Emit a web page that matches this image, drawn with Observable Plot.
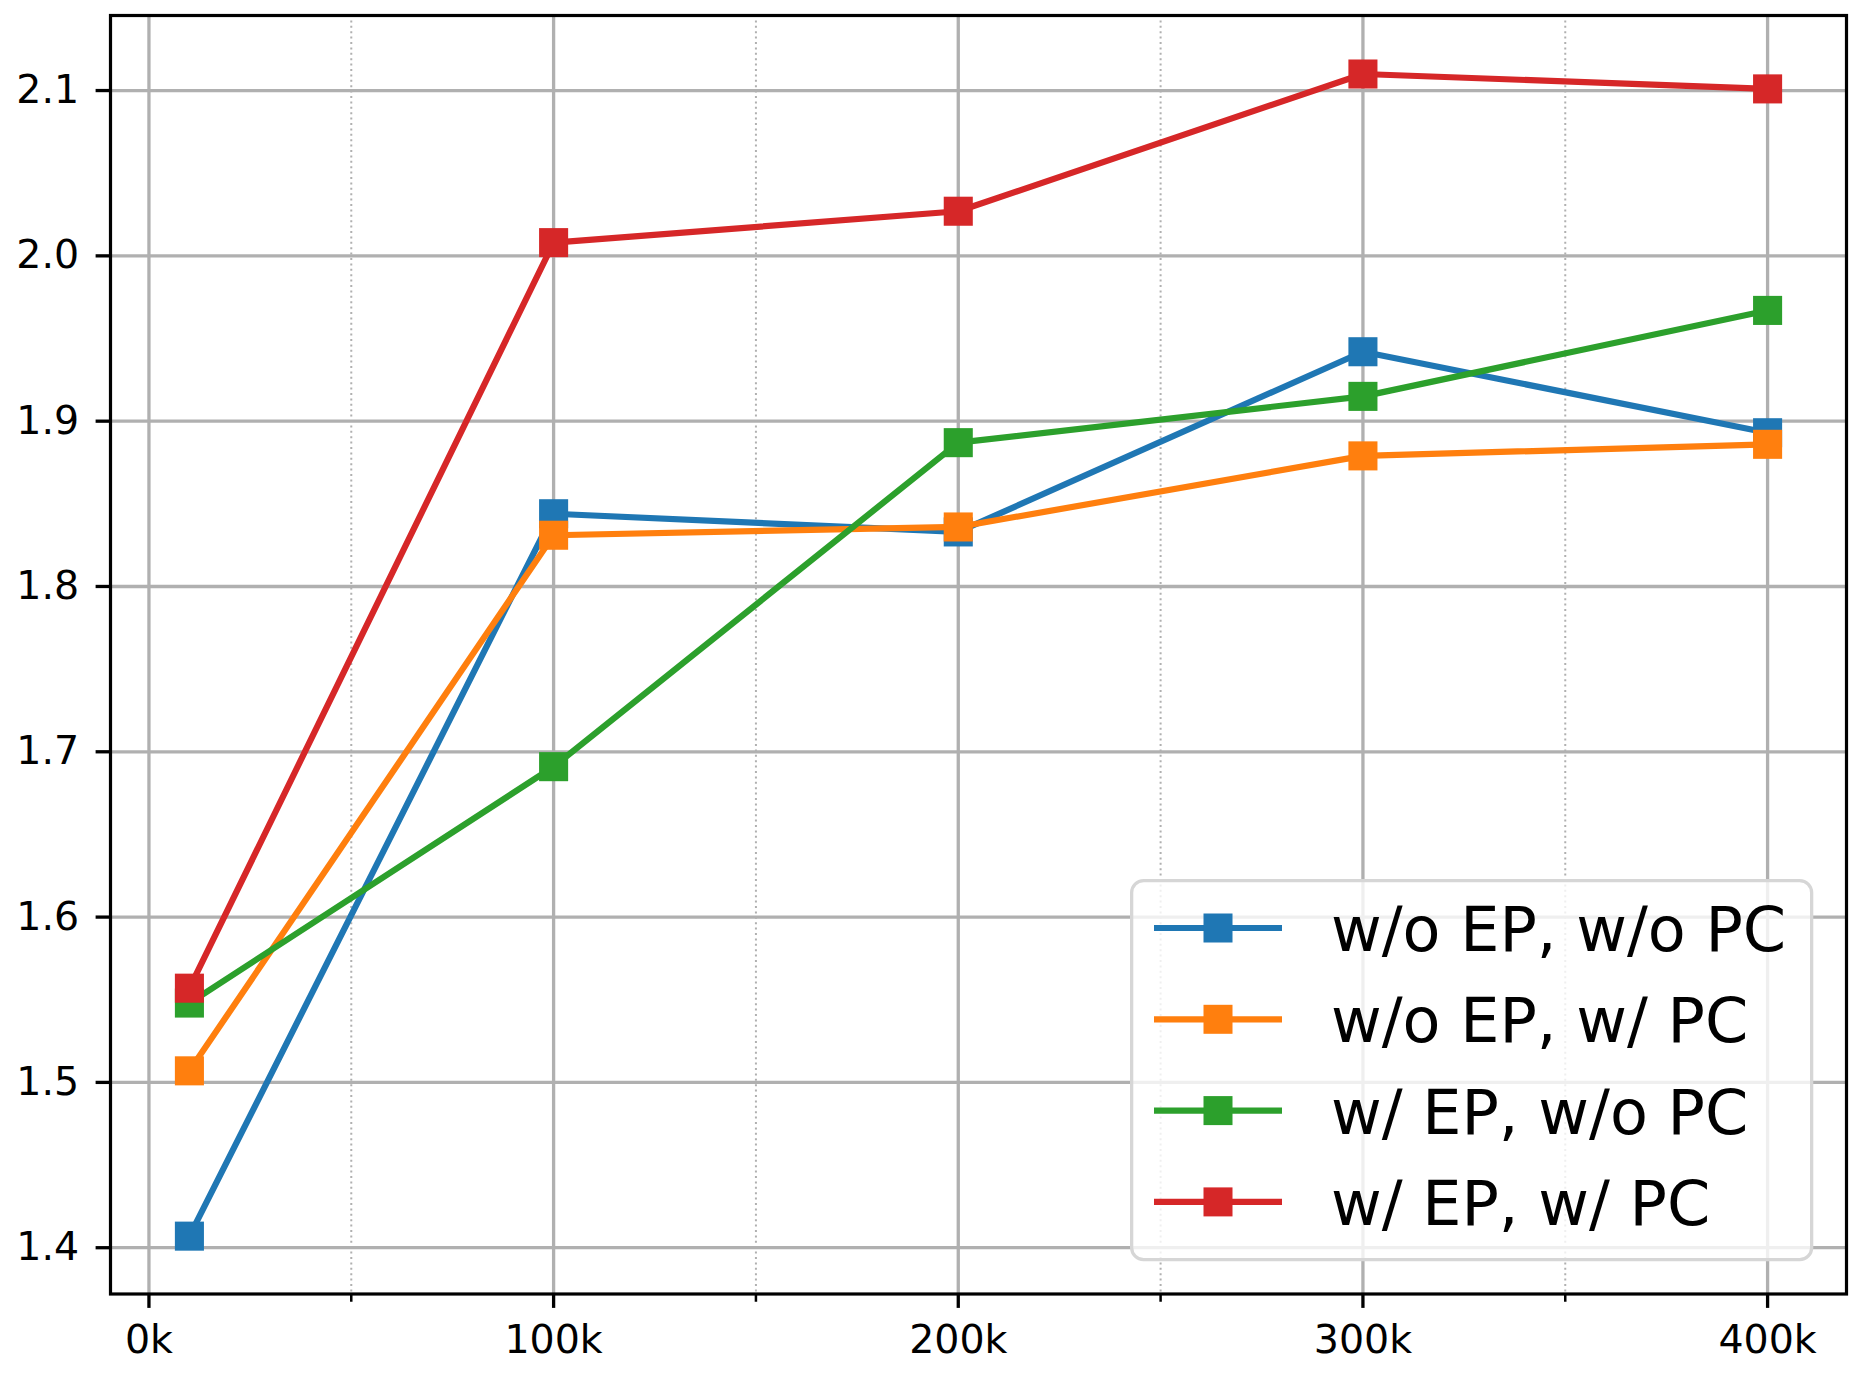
<!DOCTYPE html>
<html>
<head>
<meta charset="utf-8">
<script src="https://cdn.jsdelivr.net/npm/d3@7"></script>
<script src="https://cdn.jsdelivr.net/npm/@observablehq/plot@0.6"></script>
<style>
  html, body { margin: 0; padding: 0; background: #fff; }
  #wrap { position: relative; width: 1859px; height: 1378px; font-family: "DejaVu Sans", sans-serif; }
  #legend { position: absolute; left: 1130px; top: 879px; }
</style>
</head>
<body>
<div id="wrap"></div>
<script>
// ---- data ----
const steps = [10000, 100000, 200000, 300000, 400000];
const seriesNames = ["w/o EP, w/o PC", "w/o EP, w/ PC", "w/ EP, w/o PC", "w/ EP, w/ PC"];
const seriesColors = ["#1f77b4", "#ff7f0e", "#2ca02c", "#d62728"];
const woEP_woPC = [1.407, 1.844, 1.833, 1.942, 1.893];
const woEP_wPC  = [1.507, 1.831, 1.836, 1.879, 1.886];
const wEP_woPC  = [1.548, 1.691, 1.887, 1.915, 1.967];
const wEP_wPC   = [1.557, 2.008, 2.027, 2.110, 2.101];
const seriesValues = [woEP_woPC, woEP_wPC, wEP_woPC, wEP_wPC];
const xMajorTicks = [0, 100000, 200000, 300000, 400000];
const xMinorTicks = [50000, 150000, 250000, 350000];
const yTicks = [1.4, 1.5, 1.6, 1.7, 1.8, 1.9, 2.0, 2.1];

const rows = [];
seriesNames.forEach((name, i) => steps.forEach((s, j) => rows.push({series: name, step: s, value: seriesValues[i][j]})));

const grid = "#b0b0b0";
const marks = [
  Plot.ruleX(xMinorTicks, {stroke: grid, strokeWidth: 2, strokeDasharray: "2,3.4"}),
  Plot.ruleX(xMajorTicks, {stroke: grid, strokeWidth: 3.3}),
  Plot.ruleY(yTicks, {stroke: grid, strokeWidth: 3.3})
];
seriesNames.forEach((name, i) => {
  const d = rows.filter(r => r.series === name);
  marks.push(Plot.line(d, {x: "step", y: "value", stroke: seriesColors[i], strokeWidth: 6.2}));
  marks.push(Plot.dot(d, {x: "step", y: "value", symbol: "square", r: 16.4, fill: seriesColors[i], stroke: "none"}));
});
marks.push(Plot.axisX(xMinorTicks, {tickSize: 8.25, tickFormat: () => "", strokeWidth: 2.5, strokeOpacity: 1, label: null}));
marks.push(Plot.axisX(xMajorTicks, {tickSize: 14.4, tickPadding: 17, tickFormat: d => (d / 1000) + "k", fontSize: 39.5, strokeWidth: 3.3, strokeOpacity: 1, fill: "black", label: null}));
marks.push(Plot.axisY(yTicks, {tickSize: 14.4, tickPadding: 17, tickFormat: d3.format(".1f"), fontSize: 39.5, strokeWidth: 3.3, strokeOpacity: 1, fill: "black", label: null}));
marks.push(Plot.frame({stroke: "black", strokeWidth: 3.2}));

const chart = Plot.plot({
  width: 1859,
  height: 1378,
  marginLeft: 110,
  marginRight: 13,
  marginTop: 15,
  marginBottom: 84.5,
  style: {fontFamily: "DejaVu Sans", background: "white", color: "black"},
  x: {type: "linear", domain: [-9500, 419500]},
  y: {type: "linear", domain: [1.372, 2.1454]},
  marks
});
const wrap = document.getElementById("wrap");
wrap.appendChild(chart);

// ---- legend (inside the plot area, lower right) ----
const ns = "http://www.w3.org/2000/svg";
const lg = document.createElementNS(ns, "svg");
lg.setAttribute("id", "legend");
lg.setAttribute("width", 684);
lg.setAttribute("height", 383);
const box = document.createElementNS(ns, "rect");
Object.entries({x: 1.65, y: 1.65, width: 680, height: 379, rx: 12, fill: "white", "fill-opacity": 0.8, stroke: "#d6d6d6", "stroke-width": 3.3}).forEach(([k, v]) => box.setAttribute(k, v));
lg.appendChild(box);
seriesNames.forEach((name, i) => {
  const c = 49 + i * 91.3;
  const ln = document.createElementNS(ns, "line");
  Object.entries({x1: 24, x2: 152, y1: c, y2: c, stroke: seriesColors[i], "stroke-width": 6.2}).forEach(([k, v]) => ln.setAttribute(k, v));
  lg.appendChild(ln);
  const sq = document.createElementNS(ns, "rect");
  Object.entries({x: 88 - 14.5, y: c - 14.5, width: 29, height: 29, fill: seriesColors[i]}).forEach(([k, v]) => sq.setAttribute(k, v));
  lg.appendChild(sq);
  const t = document.createElementNS(ns, "text");
  Object.entries({x: 201, y: c + 23, "font-size": 62, "font-family": "DejaVu Sans", fill: "black"}).forEach(([k, v]) => t.setAttribute(k, v));
  t.textContent = name;
  lg.appendChild(t);
});
wrap.appendChild(lg);
</script>
</body>
</html>
